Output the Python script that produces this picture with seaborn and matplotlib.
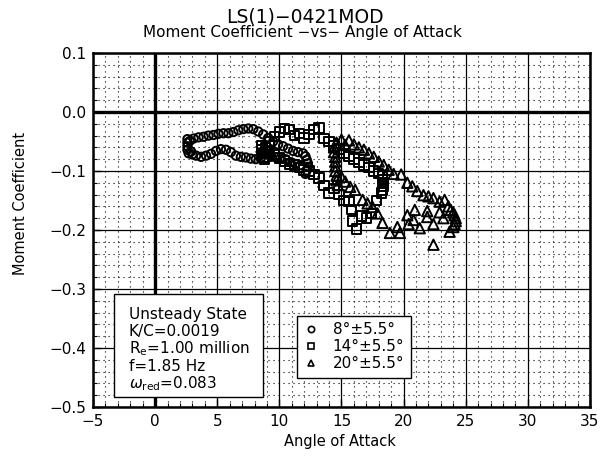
import numpy as np
import pandas as pd
import matplotlib
matplotlib.use("Agg")
import matplotlib.pyplot as plt
from matplotlib.lines import Line2D
from matplotlib.patches import Rectangle
from matplotlib.ticker import MultipleLocator
import seaborn as sns

# ---------------- data ----------------
case_labels = ["8°±5.5°", "14°±5.5°", "20°±5.5°"]

alpha_8 = [2.6, 2.6, 2.6, 2.6, 2.7, 2.8, 2.9,
           3.1, 3.5, 3.9, 4.3, 4.7, 5.1, 5.5, 5.9, 6.3, 6.7, 7.1, 7.5, 7.9, 8.3,
           8.7, 9.1, 9.5, 9.9, 10.3, 10.7, 11.1, 11.5, 11.9,
           12.1, 12.2, 12.3, 12.3, 12.2, 12.1,
           11.7, 11.3, 10.9, 10.5, 10.1, 9.7, 9.3, 8.9, 8.5, 8.1, 7.7, 7.3, 6.9,
           6.5, 6.1, 5.7, 5.3, 4.9, 4.5, 4.1, 3.7, 3.3, 3.0]
cm_8 = [-0.046, -0.052, -0.058, -0.064, -0.070, -0.049, -0.067,
        -0.045, -0.043, -0.042, -0.040, -0.039, -0.037, -0.036, -0.036, -0.034, -0.031, -0.029, -0.028, -0.029, -0.033,
        -0.038, -0.044, -0.050, -0.055, -0.058, -0.062, -0.066, -0.068, -0.070,
        -0.075, -0.081, -0.087, -0.093, -0.099, -0.105,
        -0.090, -0.088, -0.085, -0.080, -0.078, -0.077, -0.076, -0.078, -0.079, -0.080, -0.079, -0.077, -0.076,
        -0.074, -0.068, -0.064, -0.063, -0.066, -0.071, -0.074, -0.076, -0.074, -0.072]

alpha_14 = [8.6, 8.6, 8.7, 8.7, 8.8, 8.9, 9.0,
            9.2, 9.6, 10.0, 10.4, 10.8, 11.2, 11.6, 12.0, 12.4, 12.8, 13.2, 13.6, 14.0, 14.4,
            14.8, 15.2, 15.6, 16.0, 16.4, 16.8, 17.2, 17.6, 18.0,
            18.3, 18.3, 18.4, 18.4, 18.3, 18.2,
            17.8, 17.4, 17.0, 16.6, 16.2, 15.9, 15.8, 15.6, 15.2, 14.8, 14.4, 14.0, 13.6,
            13.2, 12.8, 12.4, 12.0, 11.6, 11.2, 10.8, 10.4, 10.0, 9.6, 9.2]
cm_14 = [-0.058, -0.064, -0.070, -0.076, -0.081, -0.061, -0.067,
         -0.050, -0.042, -0.034, -0.028, -0.030, -0.040, -0.036, -0.044, -0.038, -0.030, -0.027, -0.045, -0.050, -0.058,
         -0.063, -0.070, -0.075, -0.080, -0.086, -0.090, -0.094, -0.100, -0.104,
         -0.108, -0.114, -0.120, -0.126, -0.132, -0.137,
         -0.150, -0.172, -0.180, -0.176, -0.198, -0.185, -0.165, -0.152, -0.150, -0.140, -0.130, -0.137, -0.125,
         -0.112, -0.106, -0.100, -0.098, -0.094, -0.090, -0.088, -0.083, -0.078, -0.072, -0.068]

alpha_20 = [14.4, 14.4, 14.5, 14.5, 14.5, 14.5, 14.6, 14.6, 14.7,
            14.6, 15.0, 15.3, 15.6, 16.0, 16.4, 16.8, 17.2, 17.6, 18.0, 18.4, 18.8, 19.2,
            19.8, 20.3, 20.7, 21.1, 21.6, 22.0, 22.4, 22.9, 23.3,
            23.6, 23.8, 24.0, 24.1, 24.2, 24.2, 24.1, 24.0, 23.7,
            23.2, 22.9, 22.4, 22.4, 21.9, 21.9, 21.3, 20.9, 20.8, 20.4, 20.3, 19.7,
            19.5, 18.9, 18.3, 17.9, 17.5, 17.1, 16.7, 16.1, 15.7, 15.3, 15.0]
cm_20 = [-0.060, -0.068, -0.076, -0.084, -0.092, -0.100, -0.108, -0.116, -0.124,
         -0.052, -0.047, -0.056, -0.048, -0.055, -0.060, -0.064, -0.070, -0.076, -0.084, -0.090, -0.098, -0.105,
         -0.106, -0.120, -0.126, -0.134, -0.141, -0.143, -0.146, -0.152, -0.149,
         -0.160, -0.166, -0.170, -0.175, -0.180, -0.185, -0.190, -0.195, -0.203,
         -0.180, -0.170, -0.190, -0.225, -0.168, -0.178, -0.197, -0.166, -0.183, -0.190, -0.175, -0.205,
         -0.195, -0.205, -0.188, -0.172, -0.161, -0.155, -0.149, -0.132, -0.127, -0.118, -0.110]

x_ticks = [-5, 0, 5, 10, 15, 20, 25, 30, 35]
y_ticks = [0.1, 0.0, -0.1, -0.2, -0.3, -0.4, -0.5]

info_lines = ["Unsteady State", "K/C=0.0019", r"R$_{\mathrm{e}}$=1.00 million",
              "f=1.85 Hz", r"$\omega_{\mathrm{red}}$=0.083"]

df = pd.concat([
    pd.DataFrame({"alpha": alpha_8, "cm": cm_8, "case": case_labels[0]}),
    pd.DataFrame({"alpha": alpha_14, "cm": cm_14, "case": case_labels[1]}),
    pd.DataFrame({"alpha": alpha_20, "cm": cm_20, "case": case_labels[2]}),
], ignore_index=True)

# ---------------- style ----------------
sns.set_theme(style="white")
plt.rcParams["font.family"] = ["DejaVu Sans"]
plt.rcParams["mathtext.fontset"] = "dejavusans"
plt.rcParams["text.color"] = "black"
plt.rcParams["axes.labelcolor"] = "black"
plt.rcParams["xtick.color"] = "black"
plt.rcParams["ytick.color"] = "black"

fig = plt.figure(figsize=(6.03, 4.58), dpi=100)
ax = fig.add_axes([0.1542, 0.1114, 0.8242, 0.7729])

markers = {case_labels[0]: "o", case_labels[1]: "s", case_labels[2]: "^"}
sizes = {case_labels[0]: 36, case_labels[1]: 46, case_labels[2]: 56}
for c in case_labels:
    sns.scatterplot(data=df[df["case"] == c], x="alpha", y="cm", marker=markers[c],
                    s=sizes[c], facecolors="none", edgecolor="black", linewidth=1.4,
                    ax=ax, legend=False, zorder=4)

ax.set_xlim(-5, 35)
ax.set_ylim(-0.5, 0.1)
ax.set_xticks(x_ticks)
ax.set_yticks(y_ticks)
ax.xaxis.set_minor_locator(MultipleLocator(1))
ax.yaxis.set_minor_locator(MultipleLocator(0.02))
ax.yaxis.set_major_formatter(matplotlib.ticker.FuncFormatter(
    lambda v, p: ("%.1f" % v).replace("-", "\u2212") if abs(v) > 1e-9 else "0.0"))

ax.grid(which="major", color="black", linewidth=0.9, linestyle="-", zorder=1)
ax.grid(which="minor", color="black", linewidth=0.8, linestyle=(0, (1, 3.5)), zorder=1)
ax.set_axisbelow(True)
ax.axvline(0, color="black", linewidth=2.4, zorder=2)
ax.axhline(0, color="black", linewidth=2.4, zorder=2)

for sp in ax.spines.values():
    sp.set_color("black")
    sp.set_linewidth(1.8)

ax.tick_params(which="major", direction="in", length=6, width=1.0, colors="black",
               labelsize=11, bottom=True, left=True, top=False, right=False, pad=5)
ax.tick_params(which="minor", direction="in", length=3, width=0.8, colors="black",
               bottom=True, left=True, top=False, right=False)
ax.set_xlabel("")
ax.set_ylabel("")

# labels and titles
fig.text(0.506, 0.963, "LS(1)\u22120421MOD", ha="center", va="center", fontsize=13.5)
fig.text(0.502, 0.930, "Moment Coefficient \u2212vs\u2212 Angle of Attack", ha="center",
         va="center", fontsize=11)
fig.text(0.564, 0.035, "Angle of Attack", ha="center", va="center", fontsize=10.5)
fig.text(0.034, 0.555, "Moment Coefficient", ha="center", va="center", rotation=90,
         fontsize=10.5)

# info box
ax.add_patch(Rectangle((0.042, 0.028), 0.300, 0.291, transform=ax.transAxes,
                       facecolor="white", edgecolor="black", linewidth=1.0, zorder=5))
for line, yy in zip(info_lines, [0.260, 0.212, 0.164, 0.113, 0.065]):
    ax.text(0.0724, yy, line, transform=ax.transAxes, ha="left", va="center",
            fontsize=11, zorder=6)

# legend
handles = [Line2D([], [], marker=markers[c], linestyle="", markerfacecolor="none",
                  markeredgecolor="black", markersize=4.5, markeredgewidth=1.2)
           for c in case_labels]
leg = ax.legend(handles, case_labels, loc="center", bbox_to_anchor=(0.525, 0.17),
                frameon=True, fancybox=False, edgecolor="black", framealpha=1,
                fontsize=11, labelspacing=0.12, handlelength=1.0, handletextpad=0.9,
                borderpad=0.45, borderaxespad=0)
leg.get_frame().set_linewidth(1.0)
leg.set_zorder(6)
for t in leg.get_texts():
    t.set_color("black")

fig.savefig("out.png", dpi=100)
